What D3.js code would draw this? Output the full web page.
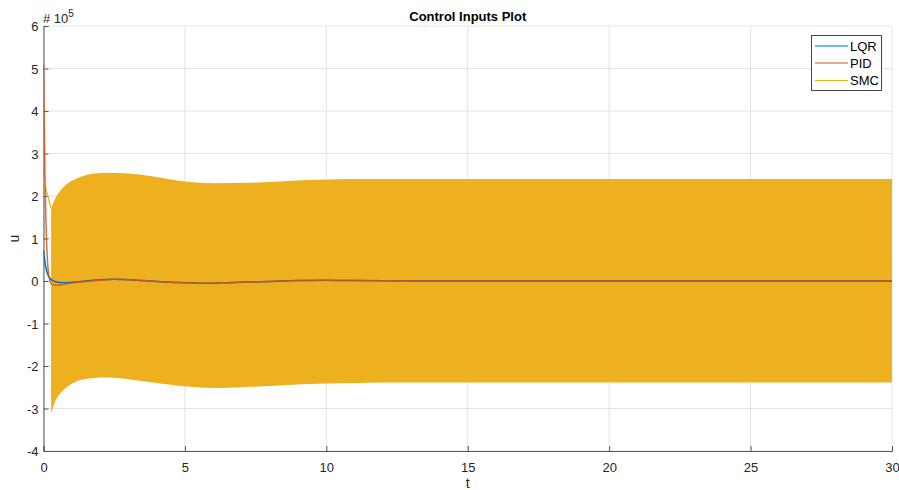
<!DOCTYPE html>
<html>
<head>
<meta charset="utf-8">
<script src="https://cdn.jsdelivr.net/npm/d3@7"></script>
<style>
  html, body { margin: 0; padding: 0; background: #fff; }
  svg { display: block; font-family: "Liberation Sans", Arial, Helvetica, sans-serif; }
</style>
</head>
<body>
<svg id="chart" width="899" height="490"></svg>
<script>
// Control input histories, u in units of 1e5
const xTicks = [0, 5, 10, 15, 20, 25, 30];
const yTicks = [-4, -3, -2, -1, 0, 1, 2, 3, 4, 5, 6];

// LQR controller output
const tLQR = [0, 0.05, 0.1, 0.15, 0.2, 0.25, 0.3, 0.4, 0.5, 0.7, 1.0, 1.5, 2.0, 2.5, 3.0, 3.5, 4.0, 4.5, 5.0, 5.5, 6.0, 6.5, 7.0, 8.0, 9.0, 10, 11, 12, 14, 16, 20, 25, 30];
const uLQR = [0.73, 0.45, 0.27, 0.16, 0.09, 0.05, 0.02, -0.01, -0.03, -0.04, -0.03, 0.0, 0.03, 0.04, 0.03, 0.01, -0.01, -0.03, -0.04, -0.05, -0.05, -0.04, -0.03, -0.01, 0.01, 0.02, 0.01, 0.005, 0, 0, 0, 0, 0];

// PID controller output
const tPID = [0, 0.02, 0.05, 0.08, 0.1, 0.13, 0.16, 0.2, 0.25, 0.3, 0.4, 0.5, 0.7, 1.0, 1.5, 2.0, 2.5, 3.0, 3.5, 4.0, 4.5, 5.0, 5.5, 6.0, 6.5, 7.0, 8.0, 9.0, 10, 11, 12, 14, 16, 20, 25, 30];
const uPID = [5.1, 4.0, 2.6, 1.6, 1.1, 0.6, 0.3, 0.08, -0.04, -0.08, -0.1, -0.1, -0.08, -0.05, -0.01, 0.02, 0.04, 0.03, 0.01, -0.01, -0.03, -0.04, -0.05, -0.05, -0.04, -0.03, -0.01, 0.01, 0.02, 0.01, 0.005, 0, 0, 0, 0, 0];

// SMC output before switching starts
const tSMCstart = [0, 0.1, 0.2, 0.27];
const uSMCstart = [2.39, 2.12, 1.88, 1.71];

// SMC chattering band: upper and lower envelope
const tSMC = [0.27, 0.4, 0.72, 1.0, 1.3, 1.8, 2.25, 3.0, 3.78, 4.5, 5.2, 6.1, 7.3, 8.5, 9.7, 11, 12, 15, 20, 25, 30];
const uSMCupper = [1.71, 1.92, 2.22, 2.36, 2.45, 2.53, 2.55, 2.53, 2.47, 2.39, 2.33, 2.30, 2.31, 2.35, 2.38, 2.40, 2.40, 2.40, 2.40, 2.40, 2.40];
const uSMClower = [-3.11, -2.86, -2.56, -2.42, -2.33, -2.28, -2.27, -2.31, -2.38, -2.44, -2.49, -2.52, -2.49, -2.45, -2.42, -2.40, -2.39, -2.39, -2.39, -2.39, -2.39];

const seriesNames = ["LQR", "PID", "SMC"];
const seriesColors = ["#0072BD", "#D95319", "#EDB120"];

const svg = d3.select("#chart");
const plotLeft = 43.5, plotRight = 892, plotTop = 26, plotBottom = 451;

const x = d3.scaleLinear().domain([0, 30]).range([plotLeft, plotRight]);
const y = d3.scaleLinear().domain([-4, 6]).range([plotBottom, plotTop]);

const gridColor = "#e3e3e3", axisColor = "#555", textColor = "#262626";

// grid
const grid = svg.append("g");
grid.selectAll("line.gx").data(xTicks).join("line")
  .attr("x1", d => x(d)).attr("x2", d => x(d))
  .attr("y1", plotTop).attr("y2", plotBottom)
  .attr("stroke", gridColor).attr("stroke-width", 1);
grid.selectAll("line.gy").data(yTicks).join("line")
  .attr("y1", d => y(d)).attr("y2", d => y(d))
  .attr("x1", plotLeft).attr("x2", plotRight)
  .attr("stroke", gridColor).attr("stroke-width", 1);

// axes with inward ticks; plain hyphen for negative labels
const tickText = d => String(d);
const xAxis = d3.axisBottom(x).tickValues(xTicks).tickSize(-5).tickPadding(12).tickFormat(tickText);
const yAxis = d3.axisLeft(y).tickValues(yTicks).tickSize(-5).tickPadding(10).tickFormat(tickText);

const gx = svg.append("g").attr("transform", `translate(0,${plotBottom})`).call(xAxis);
const gy = svg.append("g").attr("transform", `translate(${plotLeft},0)`).call(yAxis);
[gx, gy].forEach(g => {
  g.select(".domain").attr("stroke", axisColor).attr("stroke-width", 1);
  g.selectAll(".tick line").attr("stroke", axisColor).attr("stroke-width", 1);
  g.selectAll(".tick text").attr("fill", textColor).attr("font-size", 13)
    .attr("font-family", "Liberation Sans, Arial, sans-serif");
});
gy.selectAll(".tick text").attr("x", -5).attr("dy", "0.35em");

// plot data clipped to the axes
svg.append("clipPath").attr("id", "plotClip").append("rect")
  .attr("x", plotLeft).attr("y", plotTop).attr("width", plotRight - plotLeft).attr("height", plotBottom - plotTop);
const plot = svg.append("g").attr("clip-path", "url(#plotClip)");

const band = d3.area()
  .x((d, i) => x(tSMC[i]))
  .y0((d, i) => y(uSMClower[i]))
  .y1((d, i) => y(uSMCupper[i]))
  .curve(d3.curveMonotoneX);
plot.append("path").datum(tSMC).attr("d", band).attr("fill", seriesColors[2]);

const line = (ts, us) => d3.line().x((d, i) => x(ts[i])).y((d, i) => y(us[i])).curve(d3.curveMonotoneX)(ts);

plot.append("path").attr("d", line(tSMCstart, uSMCstart))
  .attr("fill", "none").attr("stroke", seriesColors[2]).attr("stroke-width", 1.3);
plot.append("path").attr("d", line(tLQR, uLQR))
  .attr("fill", "none").attr("stroke", seriesColors[0]).attr("stroke-width", 1.5);
plot.append("path").attr("d", line(tPID, uPID))
  .attr("fill", "none").attr("stroke", seriesColors[1]).attr("stroke-width", 1.5).attr("stroke-opacity", 0.85);

// title and labels
svg.append("text").attr("x", (plotLeft + plotRight) / 2).attr("y", 21)
  .attr("text-anchor", "middle").attr("font-weight", "bold").attr("font-size", 13)
  .attr("fill", "#000").text("Control Inputs Plot");

svg.append("text").attr("x", (plotLeft + plotRight) / 2).attr("y", 488)
  .attr("text-anchor", "middle").attr("font-size", 14).attr("fill", textColor).text("t");

svg.append("text").attr("transform", `translate(19,${(plotTop + plotBottom) / 2}) rotate(-90)`)
  .attr("text-anchor", "middle").attr("font-size", 14).attr("fill", textColor).text("u");

const expo = svg.append("text").attr("x", 43).attr("y", 23).attr("font-size", 13).attr("fill", textColor);
expo.append("tspan").text("# 10");
expo.append("tspan").attr("dy", -6).attr("font-size", 10).text("5");

// legend
const lg = svg.append("g");
lg.append("rect").attr("x", 811.5).attr("y", 35.5).attr("width", 70).attr("height", 55)
  .attr("fill", "#fff").attr("stroke", "#444").attr("stroke-width", 1);
const rows = [46, 63, 80.5];
seriesNames.forEach((name, i) => {
  lg.append("line").attr("x1", 815).attr("x2", 848).attr("y1", rows[i]).attr("y2", rows[i])
    .attr("stroke", seriesColors[i]).attr("stroke-width", 1.2);
  lg.append("text").attr("x", 850).attr("y", rows[i]).attr("dy", "0.36em")
    .attr("font-size", 13).attr("fill", "#000").text(name);
});
</script>
</body>
</html>
